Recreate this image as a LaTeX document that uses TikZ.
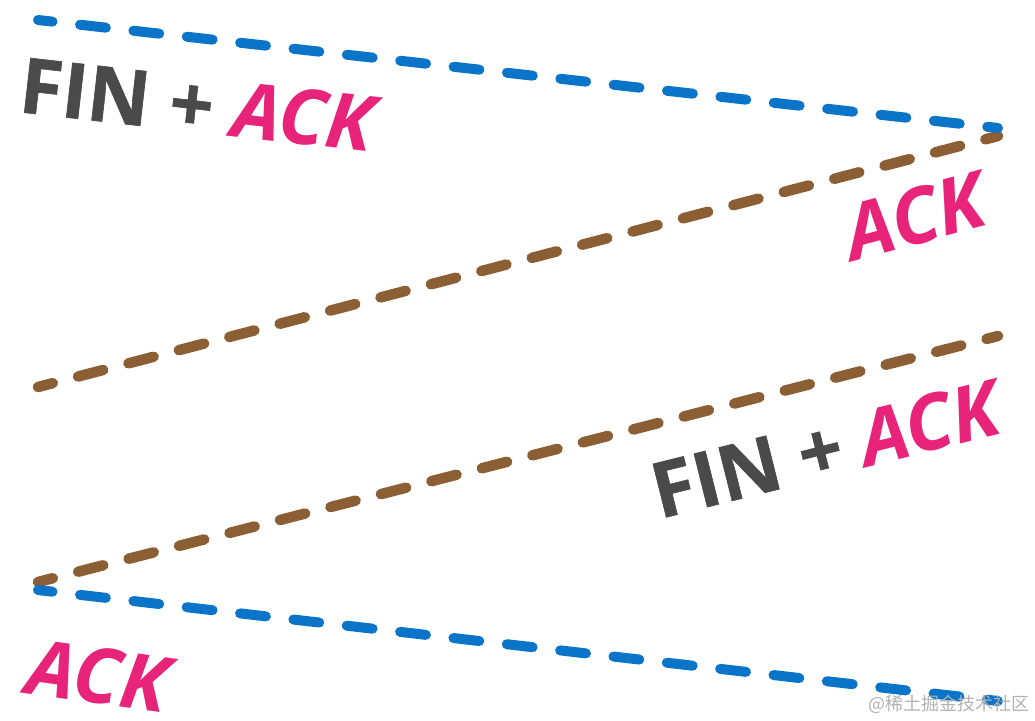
\documentclass[tikz,border=0pt]{standalone}
\usepackage{fontspec}
\setmainfont{Open Sans}[BoldFeatures={FakeBold=0.8}]
\newfontfamily\cjkfont{Noto Sans CJK SC}
\definecolor{segblue}{HTML}{0A74C8}
\definecolor{segbrown}{HTML}{8B5E34}
\definecolor{ackpink}{HTML}{E8237A}
\definecolor{fingray}{HTML}{4A4A4A}
\tikzset{
  segline/.style={line width=10pt, line cap=round},
  blueseg/.style={segline, segblue, dash pattern=on 26pt off 27.7pt, dash phase=11.4pt},
  brownseg/.style={segline, segbrown, line width=10.5pt, dash pattern=on 26pt off 26.1pt, dash phase=10.7pt},
  flaglabel/.style={anchor=base, inner sep=0pt, font=\fontsize{77}{80}\selectfont\bfseries},
}
\newcommand{\finpart}{\textcolor{fingray}{FIN +}}
\newcommand{\ackpart}{\textcolor{ackpink}{\itshape ACK}}
\begin{document}
\begin{tikzpicture}[x=1pt,y=-1pt]
        \useasboundingbox[fill=white] (0,0) rectangle (1035,720);

        % Ends of the four segments
        \coordinate (l1) at (38,20);
        \coordinate (r1) at (998,128);
        \coordinate (l2) at (38,387);
        \coordinate (r2) at (998,136);
        \coordinate (l3) at (38,582);
        \coordinate (r3) at (998,336);
        \coordinate (l4) at (38,590);
        \coordinate (r4) at (998,701);

        % Brown segments
        \draw[brownseg] (l2) -- (r2);
        \draw[brownseg] (l3) -- (r3);

        % Blue segments
        \draw[blueseg] (l1) -- (r1);
        \draw[blueseg] (l4) -- (r4);

        % Labels
        \node[flaglabel, rotate=-6.5] (topflag) at (194,132) {\finpart\ \ackpart};
        \node[flaglabel, rotate=15] (rightack) at (922,243) {\ackpart};
        \node[flaglabel, rotate=14] (midflag) at (832,476) {\finpart\ \ackpart};
        \node[flaglabel, rotate=-8] (bottomack) at (94,703) {\ackpart};

        \node[anchor=east, inner sep=0pt, text=black!30, font=\cjkfont\fontsize{18}{20}\selectfont] (mark) at (1030,704) {@稀土掘金技术社区};

    \end{tikzpicture}
\end{document}
